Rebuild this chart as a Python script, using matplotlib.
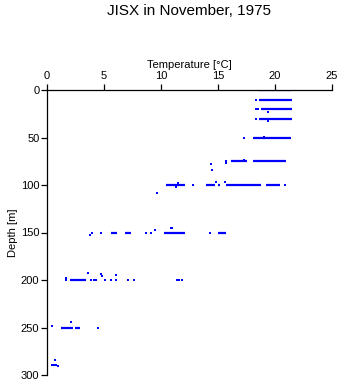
import numpy as np
import matplotlib
matplotlib.use("Agg")
import matplotlib.pyplot as plt

plt.rcParams['font.family'] = ['Liberation Sans', 'DejaVu Sans']

# dense rows of samples: depth [m], start / end temperature [degC]
row_depth = [0, 10, 20, 30, 50, 75, 75,
             100, 100, 100, 100, 100, 150, 150, 150, 150, 200, 250, 250]
row_t0 = [18.6, 18.6, 18.8, 18.6, 18.07, 16.1, 18.07,
          13.92, 15.0, 15.73, 19.25, 10.47, 5.65, 6.8, 10.3, 15.0, 2.0, 1.2, 2.43]
row_t1 = [21.44, 21.5, 21.5, 21.5, 21.44, 17.5, 21.0,
          14.7, 15.2, 18.8, 20.4, 12.08, 6.15, 7.4, 12.08, 15.67, 3.45, 2.3, 2.93]

# isolated samples
pt_temp = [18.37, 18.35, 18.55, 19.4, 18.3, 19.4, 17.25, 19.0,
           14.36, 14.5, 15.67, 15.67, 17.25,
           11.3, 11.4, 11.5, 12.0, 12.85, 14.86, 15.6, 20.9, 9.65,
           3.8, 3.95, 4.77, 8.66, 9.1, 9.45, 10.9, 11.0, 14.27,
           1.64, 1.64, 3.6, 3.9, 4.1, 4.33, 4.71, 4.85, 5.09, 5.59, 6.09, 6.09,
           7.1, 7.6, 11.4, 11.6, 11.8,
           0.44, 2.08, 4.47,
           0.68, 0.47, 0.6, 0.76, 0.96]
pt_depth = [10.5, 20, 20, 22.7, 30, 32.6, 50, 49,
            78, 84.6, 74.5, 76.5, 73.4,
            102, 100, 98, 100, 100, 97, 97, 100, 108.4,
            153, 151, 150, 150, 150, 147, 145.5, 145.6, 150,
            198, 200, 193, 200, 200, 200, 194, 195.5, 200, 200, 195, 200,
            200, 200, 200, 200, 200,
            248, 244.5, 250,
            284.5, 289, 289, 289, 290.7]

W, H = 341, 384
fig = plt.figure(figsize=(W / 100, H / 100), dpi=100)
ax = fig.add_axes([47 / W, 1 - 375 / H, (332 - 47) / W, (375 - 90) / H])

ax.hlines(row_depth, row_t0, row_t1, color='#0000ff', linewidth=1.6)
ax.plot(pt_temp, pt_depth, 's', color='#0000ff', markersize=2.0,
        markeredgewidth=0)

ax.set_xlim(0, 25)
ax.set_ylim(300, 0)
ax.set_xticks([0, 5, 10, 15, 20, 25])
ax.set_yticks([0, 50, 100, 150, 200, 250, 300])
ax.xaxis.tick_top()
ax.xaxis.set_label_position('top')
ax.spines['bottom'].set_visible(False)
ax.spines['right'].set_visible(False)
ax.spines['top'].set_linewidth(0.9)
ax.spines['left'].set_linewidth(0.9)
ax.tick_params(axis='x', direction='out', length=4, width=0.9, pad=2.5,
               labelsize=8)
ax.tick_params(axis='y', direction='out', length=4, width=0.9, pad=1.5,
               labelsize=8)
ax.set_xlabel('Temperature [°C]', fontsize=8, labelpad=2)
ax.set_ylabel('Depth [m]', fontsize=8, labelpad=2)

fig.text(189 / W, 1 - 11 / H, 'JISX in November, 1975', fontsize=11,
         ha='center', va='center')

fig.savefig('out.png', dpi=100)
